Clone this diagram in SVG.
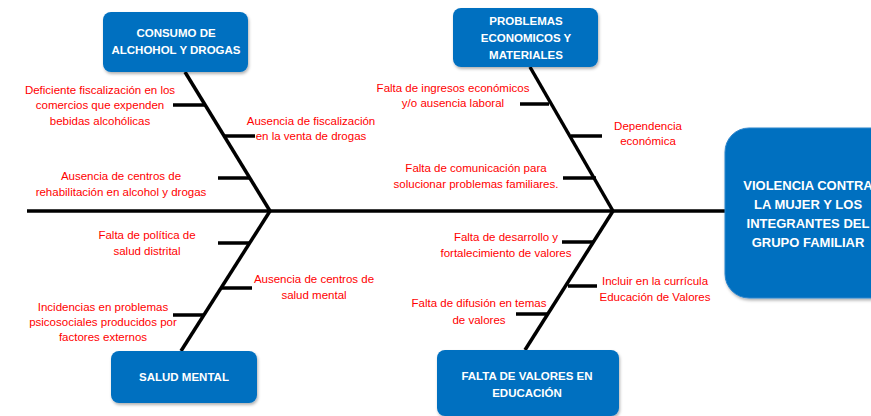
<svg xmlns="http://www.w3.org/2000/svg" width="871" height="416" viewBox="0 0 871 416">
<defs>
<filter id="sh" x="-10%" y="-10%" width="130%" height="130%"><feDropShadow dx="1" dy="2" stdDeviation="1.5" flood-color="#000" flood-opacity="0.3"/></filter>
</defs>
<style>
.box{fill:#0070C0;filter:url(#sh)}
.bt{fill:#fff;font-family:"Liberation Sans",Arial,sans-serif;font-weight:bold;font-size:11.5px;text-anchor:middle}
.big{font-size:13px}
.lb{fill:#FF0000;font-family:"Liberation Sans",Arial,sans-serif;font-size:11.5px;text-anchor:middle}
.ln{stroke:#000;stroke-width:3.5;fill:none}
</style>
<rect width="871" height="416" fill="#fff"/>
<g id="connectors">
<line class="ln" x1="27" y1="211" x2="727" y2="211"/>
<line class="ln" x1="185" y1="72" x2="270" y2="211"/>
<line class="ln" x1="530" y1="67" x2="613" y2="211"/>
<line class="ln" x1="270" y1="211" x2="181" y2="351"/>
<line class="ln" x1="613" y1="211" x2="525" y2="350"/>
<line class="ln" x1="173" y1="105" x2="205" y2="105"/>
<line class="ln" x1="224" y1="136" x2="255" y2="136"/>
<line class="ln" x1="218" y1="178" x2="250" y2="178"/>
<line class="ln" x1="520" y1="104" x2="549" y2="104"/>
<line class="ln" x1="571" y1="136" x2="602" y2="136"/>
<line class="ln" x1="563" y1="178" x2="596" y2="178"/>
<line class="ln" x1="218" y1="243" x2="250" y2="243"/>
<line class="ln" x1="222" y1="288" x2="252" y2="288"/>
<line class="ln" x1="173" y1="315" x2="204" y2="315"/>
<line class="ln" x1="562" y1="242" x2="593" y2="242"/>
<line class="ln" x1="568" y1="286" x2="597" y2="286"/>
<line class="ln" x1="516" y1="314" x2="548" y2="314"/>
</g>
<g id="n-consumo">
<rect class="box" x="103" y="12" width="145" height="60" rx="8"/>
<text class="bt" x="176" y="37">CONSUMO DE</text>
<text class="bt" x="176" y="54">ALCHOHOL Y DROGAS</text>
</g>
<g id="n-problemas">
<rect class="box" x="453" y="8" width="145" height="59" rx="8"/>
<text class="bt" x="526" y="25">PROBLEMAS</text>
<text class="bt" x="526" y="42">ECONOMICOS Y</text>
<text class="bt" x="526" y="59">MATERIALES</text>
</g>
<g id="n-violencia">
<rect class="box" x="725" y="128" width="170" height="170" rx="24" stroke="#2f85cc" stroke-width="1"/>
<text class="bt big" x="808" y="190">VIOLENCIA CONTRA</text>
<text class="bt big" x="808" y="209">LA MUJER Y LOS</text>
<text class="bt big" x="808" y="228">INTEGRANTES DEL</text>
<text class="bt big" x="808" y="247">GRUPO FAMILIAR</text>
</g>
<g id="n-salud">
<rect class="box" x="111" y="351" width="146" height="52" rx="8"/>
<text class="bt" x="184" y="381">SALUD MENTAL</text>
</g>
<g id="n-valores">
<rect class="box" x="437" y="350" width="182" height="66" rx="8"/>
<text class="bt" x="527" y="380">FALTA DE VALORES EN</text>
<text class="bt" x="527" y="397">EDUCACIÓN</text>
</g>
<g id="labels">
<text class="lb" x="100" y="94">Deficiente fiscalización en los</text>
<text class="lb" x="100" y="109">comercios que expenden</text>
<text class="lb" x="100" y="125">bebidas alcohólicas</text>
<text class="lb" x="311" y="125">Ausencia de fiscalización</text>
<text class="lb" x="311" y="140">en la venta de drogas</text>
<text class="lb" x="121" y="180">Ausencia de centros de</text>
<text class="lb" x="121" y="196">rehabilitación en alcohol y drogas</text>
<text class="lb" x="453" y="92">Falta de ingresos económicos</text>
<text class="lb" x="453" y="107">y/o ausencia laboral</text>
<text class="lb" x="648" y="130">Dependencia</text>
<text class="lb" x="648" y="145">económica</text>
<text class="lb" x="476" y="172">Falta de comunicación para</text>
<text class="lb" x="476" y="188">solucionar problemas familiares.</text>
<text class="lb" x="147" y="239">Falta de política de</text>
<text class="lb" x="147" y="255">salud distrital</text>
<text class="lb" x="314" y="283">Ausencia de centros de</text>
<text class="lb" x="314" y="299">salud mental</text>
<text class="lb" x="103" y="311">Incidencias en problemas</text>
<text class="lb" x="103" y="326">psicosociales producidos por</text>
<text class="lb" x="103" y="341">factores externos</text>
<text class="lb" x="506" y="241">Falta de desarrollo y</text>
<text class="lb" x="506" y="257">fortalecimiento de valores</text>
<text class="lb" x="655" y="285">Incluir en la currícula</text>
<text class="lb" x="655" y="301">Educación de Valores</text>
<text class="lb" x="479" y="307">Falta de difusión en temas</text>
<text class="lb" x="479" y="324">de valores</text>
</g>
</svg>
